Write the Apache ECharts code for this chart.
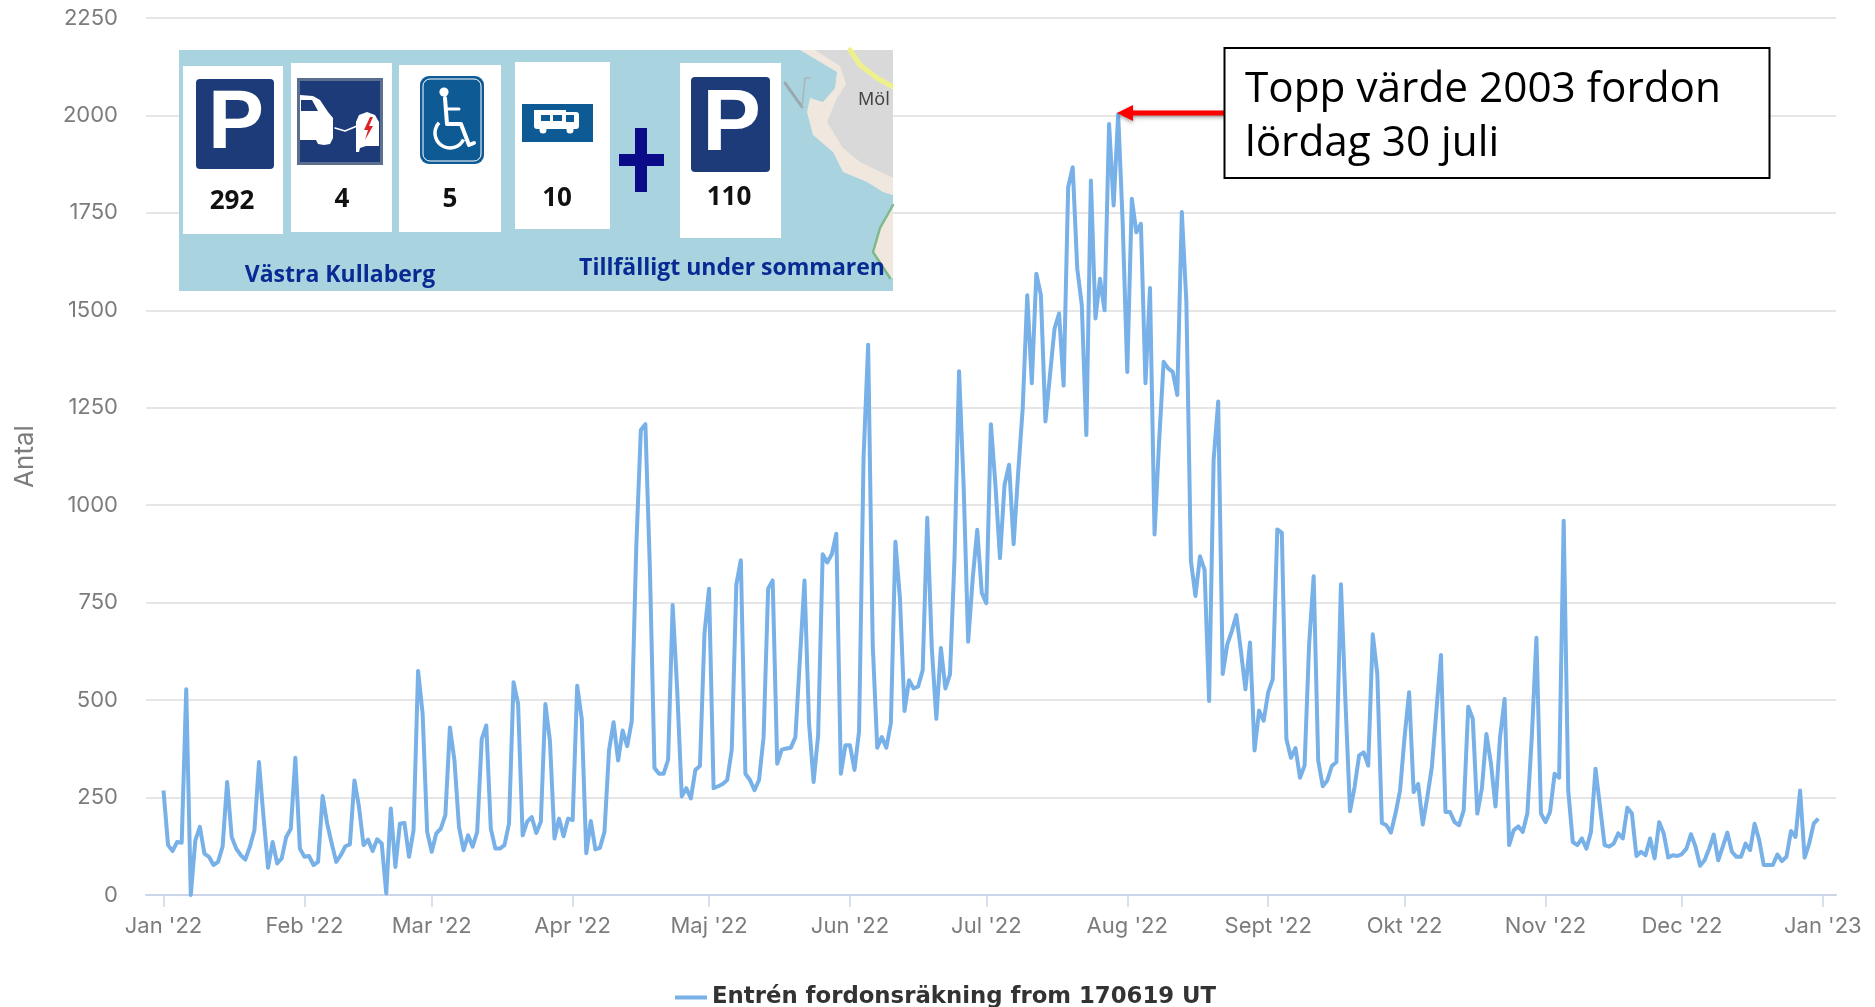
<!DOCTYPE html>
<html>
<head>
<meta charset="utf-8">
<style>html,body{margin:0;padding:0;background:#fff}#c{width:1875px;height:1007px}</style>
<script src="https://cdn.jsdelivr.net/npm/echarts@6/dist/echarts.min.js"></script>
</head>
<body>
<div id="c"></div>
<script>
const seriesName = 'Entrén fordonsräkning from 170619 UT';
const firstDay = '2022-01-01';
const monthStarts = ['2022-01-01','2022-02-01','2022-03-01','2022-04-01','2022-05-01','2022-06-01','2022-07-01','2022-08-01','2022-09-01','2022-10-01','2022-11-01','2022-12-01','2023-01-01'];
const monthLabels = ["Jan '22","Feb '22","Mar '22","Apr '22","Maj '22","Jun '22","Jul '22","Aug '22","Sept '22","Okt '22","Nov '22","Dec '22","Jan '23"];
const dailyCounts = [
268,128,113,136,134,528,0,140,175,106,
98,77,85,124,290,149,119,102,91,124,
166,341,200,70,136,81,94,149,170,352,
119,98,100,77,85,254,183,132,85,102,
125,130,294,226,128,142,113,143,132,4,
222,72,183,185,98,166,575,465,162,111,
158,170,205,430,345,175,115,153,124,162,
400,435,170,119,119,128,183,546,490,153,
188,200,159,188,490,396,145,196,151,196,
192,537,452,107,190,117,121,162,371,443,
345,422,382,446,895,1193,1208,833,326,311,
311,347,744,525,253,274,248,321,331,671,
786,274,279,285,295,373,796,859,311,295,
269,295,405,786,807,337,373,376,378,405,
608,807,441,290,410,874,853,874,927,311,
384,384,321,420,1125,1412,645,378,405,378,
441,906,760,472,551,530,535,577,968,634,
452,634,530,566,864,1344,1052,650,812,937,
775,749,1208,1052,864,1052,1104,900,1083,1249,
1539,1313,1594,1539,1215,1334,1453,1492,1307,1816,
1867,1607,1513,1180,1833,1479,1581,1500,1978,1769,
2003,1722,1342,1786,1700,1722,1313,1557,925,1163,
1368,1351,1342,1283,1752,1521,857,767,869,835,
498,1117,1266,567,643,677,718,626,528,648,
371,473,447,520,554,938,929,400,352,377,
301,332,643,818,345,279,294,331,341,797,
494,215,277,358,366,332,669,567,185,179,
160,209,268,405,520,264,285,181,251,328,
473,616,213,213,187,179,217,483,452,209,
273,413,337,227,405,503,128,166,176,162,
209,409,660,209,187,213,311,301,960,268,
136,128,145,119,162,324,226,128,124,132,
158,145,224,209,100,111,102,145,94,187,
158,96,102,100,105,119,156,124,75,89,
119,155,89,124,160,111,98,98,132,115,
183,141,77,77,77,104,87,98,164,149,
268,96,132,183,196
];
const parkingCounts = ['292','4','5','10','110'];
const insetCaptions = ['Västra Kullaberg','Tillfälligt under sommaren','Möl'];
const calloutLines = ['Topp värde 2003 fordon','lördag 30 juli'];

const DAY = 86400000;
const t0 = Date.parse(firstDay + 'T00:00:00Z');
const monthDays = monthStarts.map(d => (Date.parse(d + 'T00:00:00Z') - t0) / DAY);
const points = dailyCounts.map((v, i) => [i, v]);

const Z = 50;
const navy = '#1c3b78', lake = '#a9d3df';
function rect(x, y, w, h, fill, extra) {
  return Object.assign({ type: 'rect', z: Z, shape: { x, y, width: w, height: h, r: (extra && extra.r) || 0 }, style: { fill } }, extra && extra.more);
}
function poly(pts, fill) { return { type: 'polygon', z: Z + 1, shape: { points: pts }, style: { fill } }; }
function line(pts, stroke, w) { return { type: 'polyline', z: Z + 2, shape: { points: pts }, style: { stroke, lineWidth: w, fill: 'none', lineJoin: 'round', lineCap: 'round' } }; }
function circ(cx, cy, r, fill) { return { type: 'circle', z: Z + 3, shape: { cx, cy, r }, style: { fill } }; }
function txt(x, y, text, font, fill, align, verticalAlign) {
  return { type: 'text', z: Z + 4, x, y, style: { text, font, fill, align: align || 'center', verticalAlign: verticalAlign || 'middle' } };
}
function parkingSign(x, y, w, h, size) {
  return [
    rect(x, y, w, h, navy, { r: 4 }),
    txt(x + w / 2 + 1, y + h / 2 + 1, 'P', 'bold ' + size + 'px "Liberation Sans"', '#fff')
  ];
}

const g = [];
// inset background and map
g.push(rect(179, 50, 714, 241, lake));
g.push(poly([[800,50],[837,72],[835,88],[823,102],[810,98],[807,112],[813,135],[833,152],[843,172],[867,182],[883,192],[893,195],[893,50]], '#f0e8de'));
g.push(Object.assign(poly([[815,50],[840,66],[846,84],[836,100],[827,122],[843,148],[860,162],[893,178],[893,50]], '#d9d9d9'), { z: Z + 2 }));
g.push(poly([[893,205],[880,228],[873,252],[890,278],[893,278]], '#f0e8de'));
g.push(Object.assign(line([[893,205],[880,228],[873,252],[890,278]], '#7fb98a', 2.5), { z: Z + 3 }));
g.push(Object.assign(line([[850,50],[860,65],[877,78],[893,87]], '#eef08c', 5), { z: Z + 3 }));
g.push(line([[785,83],[802,107]], '#9aa8ad', 3));
g.push(line([[802,107],[805,78],[810,78]], '#a9b4b8', 1.5));
g.push(txt(858, 100, insetCaptions[2], '18px "Noto Sans"', '#444', 'left'));
g.push(rect(893, 85, 20, 30, '#fff', { more: { z: Z + 5 } }));
// white cards
[[183,66,100,168],[291,63,101,169],[399,65,102,167],[515,62,95,167],[680,63,101,175]].forEach(c => g.push(rect(c[0], c[1], c[2], c[3], '#fff')));
// parking signs
g.push(...parkingSign(196, 79, 78, 90, 84));
g.push(...parkingSign(691, 77, 79, 95, 88));
// charging sign
g.push(rect(297, 78, 86, 87, '#5d6f8e'));
g.push(rect(300, 81, 80, 81, navy));
g.push(poly([[300,95],[313,96],[320,100],[328,112],[333,118],[333,138],[330,144],[324,145],[318,144],[316,140],[300,140]], '#fff'));
g.push(Object.assign(poly([[301,100],[312,100],[318,111],[301,111]], navy), { z: Z + 2 }));
g.push(line([[335,128],[345,131],[357,126]], '#fff', 1.5));
g.push(poly([[356,152],[356,122],[359,115],[367,112],[375,115],[379,122],[379,146],[366,146],[360,148],[359,152]], '#fff'));
g.push(Object.assign(poly([[370,117],[364,130],[368,130],[365,140],[373,126],[369,126],[373,117]], '#d9252a'), { z: Z + 2 }));
// accessibility sign
g.push(rect(420, 76, 64, 88, '#0e5a94', { r: 9 }));
g.push({ type: 'rect', z: Z + 1, shape: { x: 423, y: 79, width: 58, height: 82, r: 7 }, style: { fill: 'none', stroke: '#fff', lineWidth: 1 } });
g.push(circ(444, 92, 4.6, '#fff'));
g.push(line([[445,98],[447,124],[461,124],[469,145],[474,143]], '#fff', 4));
g.push(line([[446,109],[459,109]], '#fff', 3));
g.push({ type: 'arc', z: Z + 2, shape: { cx: 450, cy: 133, r: 15, startAngle: 0.45, endAngle: 3.9, clockwise: true }, style: { stroke: '#fff', lineWidth: 3.5, fill: 'none' } });
// camper sign
g.push(rect(522, 104, 71, 38, '#0e5a94'));
g.push(rect(534, 112, 45, 17, '#fff', { r: 3, more: { z: Z + 1 } }));
g.push(poly([[534,110],[566,110],[566,114],[534,114]], '#fff'));
g.push(rect(541, 115, 9, 6, '#0e5a94', { more: { z: Z + 2 } }));
g.push(rect(553, 115, 9, 6, '#0e5a94', { more: { z: Z + 2 } }));
g.push(rect(566, 115, 8, 7, '#0e5a94', { more: { z: Z + 2 } }));
g.push(circ(543, 130, 3.5, '#fff'));
g.push(circ(570, 130, 3.5, '#fff'));
// plus
g.push(rect(619, 154, 45, 12, '#0b0b8a', { more: { z: Z + 1 } }));
g.push(rect(635, 128, 12, 64, '#0b0b8a', { more: { z: Z + 1 } }));
// counts and captions
[232, 342, 450, 557, 729].forEach((x, i) => {
  const y = [202, 200, 200, 199, 198][i];
  g.push(txt(x, y, parkingCounts[i], 'bold 26px "Open Sans"', '#111'));
});
g.push(txt(340, 275, insetCaptions[0], 'bold 23px "Open Sans"', '#0a2a93'));
g.push(txt(732, 268, insetCaptions[1], 'bold 23px "Open Sans"', '#0a2a93'));
// arrow
g.push({ type: 'polygon', z: Z + 1, shape: { points: [[1117,113],[1133,105],[1133,110.5],[1226,110.5],[1226,115.5],[1133,115.5],[1133,121]] },
  style: { fill: '#ff0000', shadowBlur: 4, shadowColor: 'rgba(0,0,0,0.35)', shadowOffsetY: 2 } });
// callout
g.push({ type: 'rect', z: Z + 2, shape: { x: 1224.5, y: 48, width: 545, height: 130 }, style: { fill: '#fff', stroke: '#000', lineWidth: 2 } });
g.push(txt(1245, 90, calloutLines[0], '42.3px "Open Sans"', '#000', 'left'));
g.push(txt(1245, 144, calloutLines[1], '42.3px "Open Sans"', '#000', 'left'));

const chart = echarts.init(document.getElementById('c'), null, { renderer: 'canvas' });
chart.setOption({
  animation: false,
  backgroundColor: '#fff',
  textStyle: { fontFamily: 'Inter' },
  grid: { left: 146, right: 39, top: 18, bottom: 112 },
  legend: {
    left: 670, top: 981, icon: 'rect',
    itemWidth: 32, itemHeight: 4, itemGap: 8,
    itemStyle: { color: '#78b0e8' },
    textStyle: { color: '#333', fontSize: 22.8, fontWeight: 'bold', fontFamily: 'DejaVu Sans' },
    data: [seriesName]
  },
  xAxis: {
    type: 'value',
    min: -3.85,
    max: monthDays[12] + 2.9,
    axisLine: { onZero: false, lineStyle: { color: '#ccd6eb', width: 2 } },
    axisTick: { show: true, length: 12, lineStyle: { color: '#ccd6eb', width: 1.5 }, customValues: monthDays },
    axisLabel: {
      customValues: monthDays, color: '#7c7c7c', fontSize: 22, margin: 20, hideOverlap: false,
      formatter: v => monthLabels[monthDays.indexOf(+v)] || ''
    },
    splitLine: { show: false }
  },
  yAxis: {
    type: 'value', min: 0, max: 2250, interval: 250,
    name: 'Antal', nameLocation: 'middle', nameGap: 108,
    nameTextStyle: { color: '#7c7c7c', fontSize: 26 },
    axisLine: { show: false }, axisTick: { show: false },
    axisLabel: { color: '#7c7c7c', fontSize: 22, margin: 28, formatter: v => String(v) },
    splitLine: { lineStyle: { color: '#e6e6e6', width: 2 } }
  },
  series: [{
    name: seriesName, type: 'line', data: points, showSymbol: false, symbol: 'none',
    lineStyle: { color: '#78b0e8', width: 4, join: 'round' }, itemStyle: { color: '#78b0e8' },
    smooth: false
  }],
  graphic: { elements: g }
});
</script>
</body>
</html>
